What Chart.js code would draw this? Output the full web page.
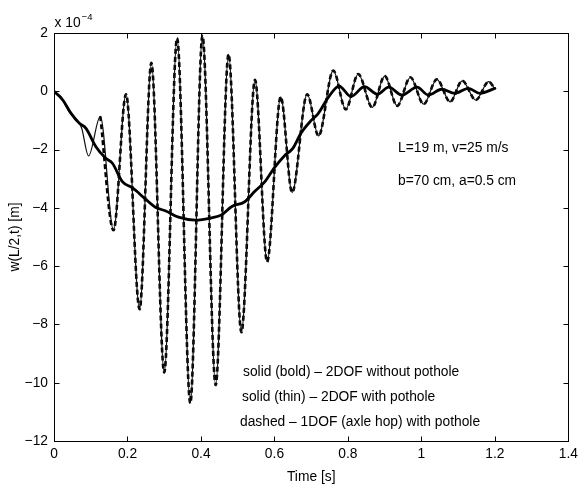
<!DOCTYPE html>
<html lang="en">
<head>
<meta charset="UTF-8">
<title>w(L/2,t) - pothole response</title>
<script src="https://cdn.jsdelivr.net/npm/chart.js"></script>
<style>
  html, body { margin: 0; padding: 0; background: #fff; }
  #wrap { width: 583px; height: 484px; }
</style>
</head>
<body>
<div id="wrap"><canvas id="chart"></canvas></div>
<script>
  // tick positions
  const timeTicks = [0, 0.2, 0.4, 0.6, 0.8, 1, 1.2, 1.4];
  const deflTicks = [-12, -10, -8, -6, -4, -2, 0, 2];

  // solid (bold) - 2DOF without pothole, values in 1e-4 m
  const tBold = [0, 0.024, 0.046, 0.069, 0.087, 0.114, 0.141, 0.159, 0.186, 0.213, 0.249, 0.276,
    0.303, 0.339, 0.384, 0.429, 0.456, 0.483, 0.519, 0.546, 0.574, 0.600, 0.628, 0.650, 0.672,
    0.700, 0.718, 0.745, 0.776, 0.808, 0.845, 0.880, 0.911, 0.947, 0.988, 1.019, 1.055, 1.091,
    1.128, 1.159, 1.200];
  const wBold = [0, -0.30, -0.75, -1.10, -1.27, -1.90, -2.30, -2.47, -3.10, -3.31, -3.70, -3.98,
    -4.10, -4.32, -4.42, -4.34, -4.24, -3.96, -3.79, -3.44, -3.10, -2.62, -2.20, -1.96, -1.44,
    -1.00, -0.78, -0.24, 0.18, -0.18, 0.16, -0.10, 0.14, -0.13, 0.14, -0.13, 0.07, -0.07,
    0.10, -0.07, 0.10];

  // solid (thin) - 2DOF with pothole
  const tThin = [0, 0.020, 0.042, 0.060, 0.075, 0.094, 0.126, 0.162, 0.196, 0.233, 0.265, 0.300,
    0.335, 0.371, 0.404, 0.440, 0.475, 0.510, 0.547, 0.580, 0.617, 0.648, 0.689, 0.720, 0.760,
    0.794, 0.828, 0.866, 0.900, 0.934, 0.970, 1.006, 1.042, 1.078, 1.111, 1.148, 1.183, 1.200];
  const wThin = [0, -0.20, -0.72, -0.95, -1.25, -2.22, -0.86, -4.77, -0.10, -7.48, 0.98, -9.65,
    1.82, -10.70, 1.90, -10.08, 1.27, -8.27, 0.39, -5.85, -0.19, -3.47, -0.10, -1.53, 0.71,
    -0.62, 0.59, -0.55, 0.52, -0.50, 0.48, -0.44, 0.41, -0.36, 0.36, -0.30, 0.33, 0.08];

  // dashed - 1DOF (axle hop) with pothole
  const tHop = [0.126, 0.162, 0.196, 0.233, 0.265, 0.300, 0.335, 0.371, 0.404, 0.440, 0.475,
    0.510, 0.547, 0.580, 0.617, 0.648, 0.689, 0.720, 0.760, 0.794, 0.828, 0.866, 0.900, 0.934,
    0.970, 1.006, 1.042, 1.078, 1.111, 1.148, 1.183, 1.200];
  const wHop = [-0.86, -4.77, -0.10, -7.48, 0.98, -9.65, 1.82, -10.70, 1.90, -10.08, 1.27,
    -8.27, 0.39, -5.85, -0.19, -3.47, -0.10, -1.53, 0.71, -0.62, 0.59, -0.55, 0.52, -0.50,
    0.48, -0.44, 0.41, -0.36, 0.36, -0.30, 0.33, 0.08];

  const notes = ['L=19 m, v=25 m/s', 'b=70 cm, a=0.5 cm'];
  const keyLines = [
    'solid (bold) \u2013 2DOF without pothole',
    'solid (thin) \u2013 2DOF with pothole',
    'dashed \u2013 1DOF (axle hop) with pothole'
  ];

  const FONT = '"Liberation Sans", Arial, Helvetica, sans-serif';
  const FS = 13.8;

  const pts = (xs, ys) => xs.map((x, i) => ({ x: x, y: ys[i] }));

  // box around the axes with inward ticks, plus the free text
  const boxPlugin = {
    id: 'box',
    afterDraw(chart) {
      const { ctx, chartArea: a, scales } = chart;
      const L = Math.round(a.left) + 0.5, R = Math.round(a.right) + 0.5;
      const T = Math.round(a.top) + 0.5, B = Math.round(a.bottom) + 0.5;
      ctx.save();
      ctx.strokeStyle = '#000';
      ctx.lineWidth = 1;
      ctx.strokeRect(L, T, R - L, B - T);
      ctx.beginPath();
      timeTicks.forEach(v => {
        const x = Math.round(scales.x.getPixelForValue(v)) + 0.5;
        if (x <= L + 1 || x >= R - 1) return;
        ctx.moveTo(x, B); ctx.lineTo(x, B - 5);
        ctx.moveTo(x, T); ctx.lineTo(x, T + 5);
      });
      deflTicks.forEach(v => {
        const y = Math.round(scales.y.getPixelForValue(v)) + 0.5;
        if (y <= T + 1 || y >= B - 1) return;
        ctx.moveTo(L, y); ctx.lineTo(L + 5, y);
        ctx.moveTo(R, y); ctx.lineTo(R - 5, y);
      });
      ctx.stroke();

      ctx.fillStyle = '#000';
      ctx.textBaseline = 'middle';
      ctx.textAlign = 'left';
      // exponent label
      ctx.font = FS + 'px ' + FONT;
      ctx.fillText('x 10', L, 23);
      const w = ctx.measureText('x 10').width;
      ctx.font = '9.5px ' + FONT;
      ctx.fillText('\u22124', L + w + 1, 17);

      ctx.font = FS + 'px ' + FONT;
      ctx.fillText(notes[0], 398, 148);
      ctx.fillText(notes[1], 398, 181);
      ctx.fillText(keyLines[0], 243, 372);
      ctx.fillText(keyLines[1], 242, 397);
      ctx.fillText(keyLines[2], 240, 422);
      ctx.restore();
    }
  };

  new Chart(document.getElementById('chart'), {
    type: 'line',
    data: {
      datasets: [
        {
          label: 'solid (bold) - 2DOF without pothole',
          data: pts(tBold, wBold),
          borderColor: '#000',
          borderWidth: 2.8,
          pointRadius: 0,
          cubicInterpolationMode: 'monotone',
          borderJoinStyle: 'round',
          borderCapStyle: 'round'
        },
        {
          label: 'solid (thin) - 2DOF with pothole',
          data: pts(tThin, wThin),
          borderColor: '#111',
          borderWidth: 1.2,
          pointRadius: 0,
          cubicInterpolationMode: 'monotone'
        },
        {
          label: 'dashed - 1DOF (axle hop) with pothole',
          data: pts(tHop, wHop),
          borderColor: '#000',
          borderWidth: 2.6,
          borderDash: [5, 3],
          pointRadius: 0,
          cubicInterpolationMode: 'monotone'
        }
      ]
    },
    options: {
      responsive: true,
      maintainAspectRatio: false,
      animation: false,
      devicePixelRatio: 1,
      layout: { padding: { top: 33, right: 10, left: 0, bottom: 0 } },
      plugins: { legend: { display: false }, tooltip: { enabled: false } },
      scales: {
        x: {
          type: 'linear',
          min: 0,
          max: 1.4,
          afterBuildTicks: s => { s.ticks = timeTicks.map(v => ({ value: v })); },
          afterFit: s => { s.height = 43; },
          grid: { display: false, drawTicks: false },
          border: { display: false },
          ticks: {
            color: '#000',
            font: { family: FONT, size: FS },
            padding: 5,
            maxRotation: 0,
            autoSkip: false,
            callback: v => String(Math.round(v * 10) / 10)
          },
          title: {
            display: true,
            text: 'Time [s]',
            color: '#000',
            font: { family: FONT, size: FS, lineHeight: 1 },
            padding: { top: 0, bottom: 0 }
          }
        },
        y: {
          type: 'linear',
          min: -12,
          max: 2,
          afterBuildTicks: s => { s.ticks = deflTicks.map(v => ({ value: v })); },
          afterFit: s => { s.width = 54; },
          grid: { display: false, drawTicks: false },
          border: { display: false },
          ticks: {
            color: '#000',
            font: { family: FONT, size: FS },
            padding: 6,
            autoSkip: false,
            callback: v => (v < 0 ? '\u2212' + (-v) : String(v))
          },
          title: {
            display: true,
            text: 'w(L/2,t) [m]',
            color: '#000',
            font: { family: FONT, size: FS, lineHeight: 1 },
            padding: { top: 8, bottom: 0 }
          }
        }
      }
    },
    plugins: [boxPlugin]
  });
</script>
</body>
</html>
